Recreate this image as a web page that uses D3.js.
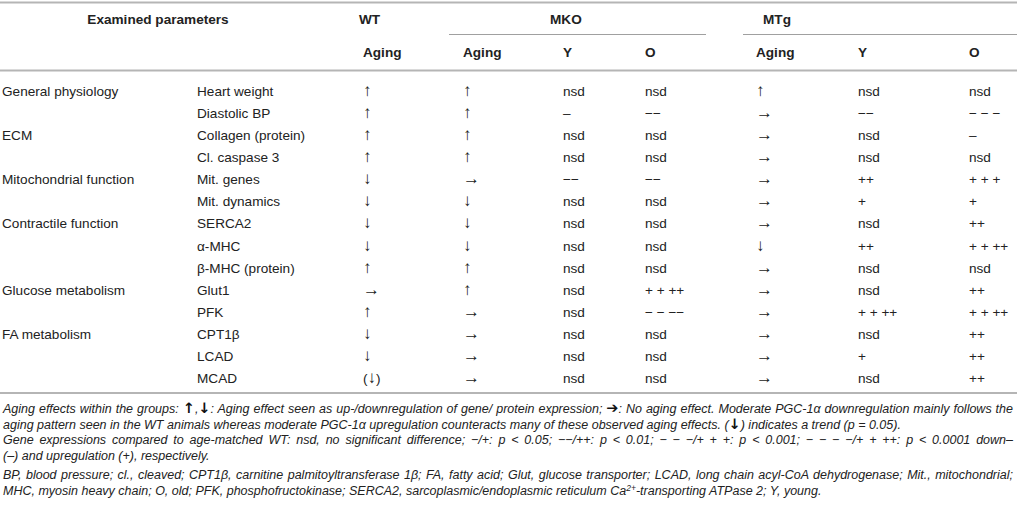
<!DOCTYPE html>
<html><head><meta charset="utf-8">
<script src="https://cdn.jsdelivr.net/npm/d3@7"></script>
<style>
html,body{margin:0;padding:0;background:#fff;}
#wrap{position:relative;width:1017px;height:516px;overflow:hidden;}
svg{position:absolute;left:0;top:0;}
.cap{position:absolute;left:3px;width:1010px;font-family:"Liberation Sans",Arial,sans-serif;font-style:italic;font-size:12.5px;color:#222;white-space:nowrap;line-height:14px;}
.cap.j{text-align:justify;text-align-last:justify;}
.ba{font-family:"DejaVu Sans",sans-serif;font-style:normal;font-weight:bold;font-size:14.5px;color:#111;}
sup{font-size:8.5px;vertical-align:4px;line-height:0;}
</style></head>
<body><div id="wrap"></div>
<script>
// ---- data ----
const groups = ["General physiology","","ECM","","Mitochondrial function","","Contractile function","","","Glucose metabolism","","FA metabolism","",""];
const parameters = ["Heart weight","Diastolic BP","Collagen (protein)","Cl. caspase 3","Mit. genes","Mit. dynamics","SERCA2","α-MHC","β-MHC (protein)","Glut1","PFK","CPT1β","LCAD","MCAD"];
const wtAging  = ["↑","↑","↑","↑","↓","↓","↓","↓","↑","→","↑","↓","↓","(↓)"];
const mkoAging = ["↑","↑","↑","↑","→","↓","↓","↓","↑","↑","→","→","→","→"];
const mkoY     = ["nsd","–","nsd","nsd","−−","nsd","nsd","nsd","nsd","nsd","nsd","nsd","nsd","nsd"];
const mkoO     = ["nsd","−−","nsd","nsd","−−","nsd","nsd","nsd","nsd","+ + ++","− − −−","nsd","nsd","nsd"];
const mtgAging = ["↑","→","→","→","→","→","→","↓","→","→","→","→","→","→"];
const mtgY     = ["nsd","−−","nsd","nsd","++","+","nsd","++","nsd","nsd","+ + ++","nsd","+","nsd"];
const mtgO     = ["nsd","− − −","–","nsd","+ + +","+","++","+ + ++","nsd","++","+ + ++","++","++","++"];
const topHeaders = ["Examined parameters","WT","MKO","MTg"];
const subHeaders = ["Aging","Aging","Y","O","Aging","Y","O"];
const captionLines = [
 'Aging effects within the groups: <span class="ba">↑</span>,<span class="ba">↓</span>: Aging effect seen as up-/downregulation of gene/ protein expression; <span class="ba">➔</span>: No aging effect. Moderate PGC-1α downregulation mainly follows the',
 'aging pattern seen in the WT animals whereas moderate PGC-1α upregulation counteracts many of these observed aging effects. (<span class="ba">↓</span>) indicates a trend (p = 0.05).',
 'Gene expressions compared to age-matched WT: nsd, no significant difference; −/+: p &lt; 0.05; −−/++: p &lt; 0.01; − − −/+ + +: p &lt; 0.001; − − − −/+ + ++: p &lt; 0.0001 down–',
 '(–) and upregulation (+), respectively.',
 'BP, blood pressure; cl., cleaved; CPT1β, carnitine palmitoyltransferase 1β; FA, fatty acid; Glut, glucose transporter; LCAD, long chain acyl-CoA dehydrogenase; Mit., mitochondrial;',
 'MHC, myosin heavy chain; O, old; PFK, phosphofructokinase; SERCA2, sarcoplasmic/endoplasmic reticulum Ca<sup>2+</sup>-transporting ATPase 2; Y, young.'
];
const captionJustified = [true,false,true,false,true,false];

// ---- layout ----
const W = 1017, H = 516;
const font = '"Liberation Sans", Arial, sans-serif';
const txt = "#222";
const wrap = d3.select("#wrap");
const svg = wrap.append("svg").attr("width", W).attr("height", H);

const columns = [groups, parameters, wtAging, mkoAging, mkoY, mkoO, mtgAging, mtgY, mtgO];
const colX = d3.scaleOrdinal().domain(d3.range(9)).range([2, 197, 363, 463, 563, 645, 756, 858, 969]);
const rowY = d3.scalePoint().domain(d3.range(parameters.length)).range([96, 383]);
const isArrow = v => /[↑↓→]/.test(v);

// rules
const rule = (x1, x2, y, w, c) => svg.append("line").attr("x1", x1).attr("x2", x2).attr("y1", y).attr("y2", y)
  .attr("stroke", c).attr("stroke-width", w);
rule(0, W, 2.5, 2, "#b5b5b5");
rule(449, 706, 34.5, 1, "#a0a0a0");
rule(743, W, 34.5, 1, "#a0a0a0");
rule(0, W, 70.5, 2, "#b5b5b5");
rule(0, W, 393, 2, "#b5b5b5");

// top headers
const topPos = [[158, "middle"], [359, "start"], [550, "start"], [763, "start"]];
svg.selectAll("text.th").data(topHeaders).join("text").attr("class", "th")
  .attr("x", (d, i) => topPos[i][0]).attr("y", 24).attr("text-anchor", (d, i) => topPos[i][1])
  .attr("font-family", font).attr("font-weight", "bold").attr("font-size", 13.6).attr("fill", txt).text(d => d);

// sub headers
svg.selectAll("text.sh").data(subHeaders).join("text").attr("class", "sh")
  .attr("x", (d, i) => colX(i + 2)).attr("y", 57)
  .attr("font-family", font).attr("font-weight", "bold").attr("font-size", 13.6).attr("fill", txt).text(d => d);

// body cells
const cells = [];
columns.forEach((col, ci) => col.forEach((v, ri) => cells.push({ci, ri, v})));
const cellSel = svg.selectAll("text.cell").data(cells).join("text").attr("class", "cell")
  .attr("x", d => colX(d.ci)).attr("y", d => rowY(d.ri))
  .attr("font-family", font).attr("font-size", 13.6).attr("fill", txt)
  .attr("xml:space", "preserve");
cellSel.each(function(d) {
  const t = d3.select(this);
  if (!isArrow(d.v)) { t.text(d.v); return; }
  d.v.split(/([↑↓→])/).filter(s => s.length).forEach(s => {
    t.append("tspan").attr("font-size", isArrow(s) ? 17 : 13.6).text(s);
  });
});

// caption
const capY = [412, 428, 444, 460, 479, 495];
const caps = wrap.selectAll("div.cap").data(captionLines).join("div")
  .attr("class", (d, i) => "cap" + (captionJustified[i] ? " j" : ""))
  .style("top", (d, i) => (capY[i] - 11) + "px")
  .html(d => d);
// keep justified lines inside the text block width
caps.each(function(d, i) {
  if (!captionJustified[i]) return;
  const el = this;
  el.style.width = "auto";
  const natural = el.getBoundingClientRect().width;
  el.style.width = "1010px";
  if (natural > 1010) {
    const n = el.textContent.length;
    el.style.letterSpacing = (-(natural - 1008) / n) + "px";
  }
});
</script></body></html>
